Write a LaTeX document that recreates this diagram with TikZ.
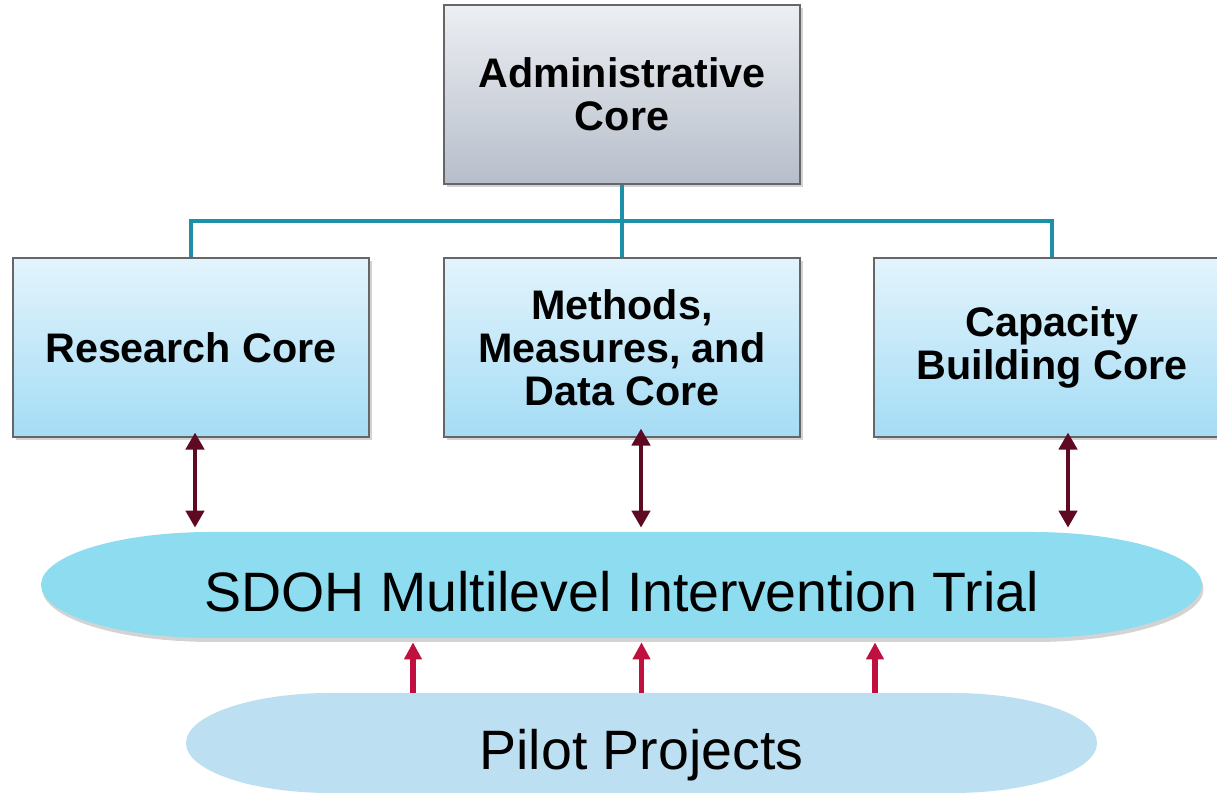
\documentclass[tikz,border=0pt]{standalone}
\usepackage{fontspec}
\setmainfont{Liberation Sans}
\usetikzlibrary{arrows.meta,shadows}
\definecolor{bleucanard}{HTML}{1E8FA8}
\definecolor{bordeaux}{HTML}{5E0A22}
\definecolor{framboise}{HTML}{C0103F}
\definecolor{ciel}{HTML}{8EDCF0}
\definecolor{pale}{HTML}{BCDFF1}
\definecolor{coeurhaut}{HTML}{E3F4FC}
\definecolor{coeurbas}{HTML}{A4DCF5}
\definecolor{adminhaut}{HTML}{ECEFF3}
\definecolor{adminbas}{HTML}{B7BECA}

\begin{document}
\begin{tikzpicture}
\tikzset{coeur/.style={draw=gray!80!black, line width=0.6pt, minimum width=7.12cm, minimum height=3.58cm,
    align=center, font=\bfseries\fontsize{23.5}{24.5}\selectfont, top color=coeurhaut, bottom color=coeurbas,
    drop shadow={shadow xshift=0.05cm, shadow yshift=-0.07cm, opacity=0.35}},
  admin/.style={coeur, top color=adminhaut, bottom color=adminbas},
  bulletexte/.style={inner sep=0pt, text height=1.2cm, text depth=0.12cm, font=\fontsize{31.6}{34}\selectfont},
  lien/.style={bleucanard, line width=2.3pt},
  dbl/.style={bordeaux, line width=2.8pt, {Triangle[width=0.36cm,length=0.34cm]}-{Triangle[width=0.36cm,length=0.34cm]}},
  monte/.style={framboise, line width=3pt, -{Triangle[width=0.34cm,length=0.34cm]}}}
\clip (0, 0) rectangle (24.34, 15.86);
% les deux bulles
\fill[ciel, drop shadow={shadow xshift=0.03cm, shadow yshift=-0.08cm, opacity=0.35}] (0.82,4.16) arc[start angle=180, end angle=90, x radius=3.4cm, y radius=1.06cm] -- (20.64,5.22) arc[start angle=90, end angle=-90, x radius=3.4cm, y radius=1.06cm] -- (4.22,3.10) arc[start angle=270, end angle=180, x radius=3.4cm, y radius=1.06cm] -- cycle;
\fill[pale] (3.72,1.0) arc[start angle=180, end angle=90, x radius=2.9cm, y radius=1.0cm] -- (19.04,2.0) arc[start angle=90, end angle=-90, x radius=2.9cm, y radius=1.0cm] -- (6.62,0.0) arc[start angle=270, end angle=180, x radius=2.9cm, y radius=1.0cm] -- cycle;
\node[bulletexte, minimum width=23.22cm, minimum height=2.12cm] (trial) at (12.43, 4.16) {SDOH Multilevel Intervention Trial};
\node[bulletexte, minimum width=18.22cm, minimum height=2.0cm] (pilot) at (12.83, 1.0) {Pilot Projects};
% les cores
\node[admin] (admin) at (12.44, 13.97) {Administrative\\Core};
\node[coeur] (research) at (3.82, 8.91) {Research Core};
\node[coeur] (methods) at (12.44, 8.91) {Methods,\\Measures, and\\Data Core};
\node[coeur] (capacity) at (21.04, 8.91) {Capacity\\Building Core};
\coordinate (bus) at (12.44, 11.44);
\draw[lien] (admin.south) -- (methods.north);
\draw[lien] (research.north) |- (bus) -| (capacity.north);
\draw[dbl] ([xshift=0.08cm, yshift=0.1cm]research.south) -- ([xshift=0.08cm, yshift=0.08cm]research.south |- trial.north);
\draw[dbl] ([xshift=0.38cm, yshift=0.18cm]methods.south) -- ([xshift=0.38cm, yshift=0.08cm]methods.south |- trial.north);
\draw[dbl] ([xshift=0.32cm, yshift=0.1cm]capacity.south) -- ([xshift=0.32cm, yshift=0.08cm]capacity.south |- trial.north);
\draw[monte] ([xshift=-4.57cm]pilot.north) -- ([xshift=-4.57cm, yshift=-0.08cm]pilot.north |- trial.south);
\draw[monte] (pilot.north) -- ([yshift=-0.08cm]pilot.north |- trial.south);
\draw[monte] ([xshift=4.67cm]pilot.north) -- ([xshift=4.67cm, yshift=-0.08cm]pilot.north |- trial.south);
\end{tikzpicture}
\end{document}
